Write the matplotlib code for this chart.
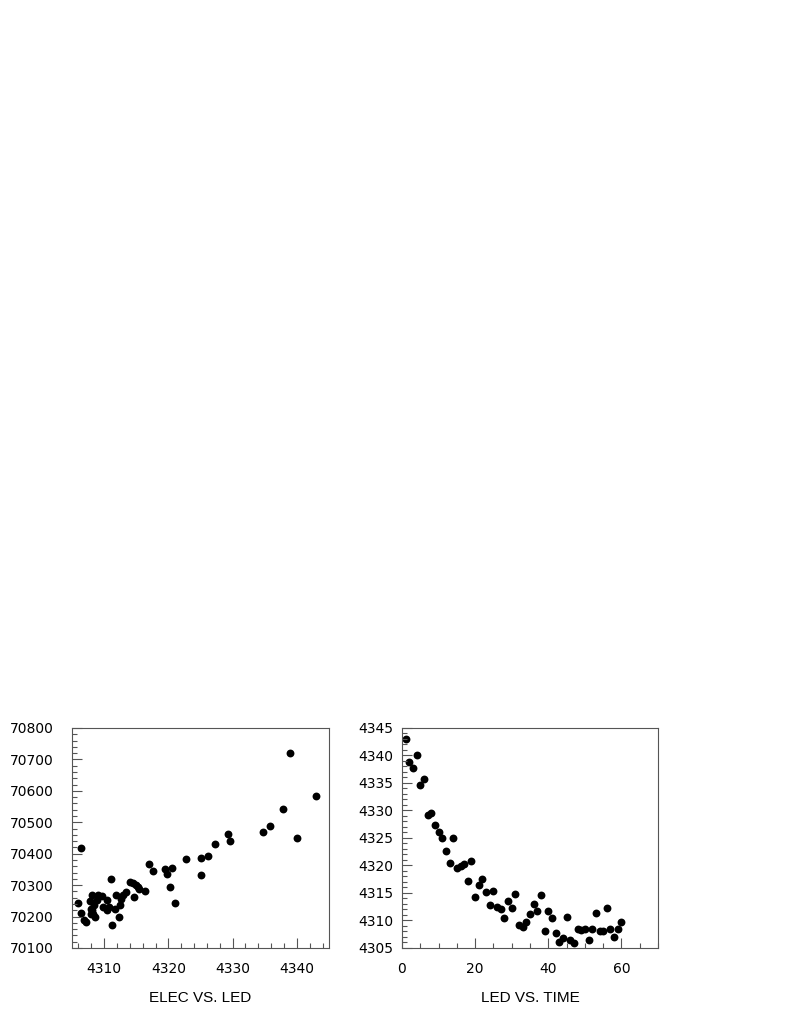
import matplotlib
matplotlib.use("Agg")
import matplotlib.pyplot as plt
from matplotlib.ticker import MultipleLocator

# ELEC vs LED
led_x = [4305.9, 4306.35, 4306.35, 4306.8, 4307.1, 4307.8, 4308.1, 4307.9, 4308.1, 4308.4,
         4308.3, 4308.5, 4307.9, 4308.85, 4309.1, 4309.6, 4309.8, 4310.4, 4310.5, 4310.7,
         4311.1, 4311.25, 4311.7, 4311.9, 4312.35, 4312.45, 4312.6, 4312.97, 4313.44, 4314.07,
         4314.43, 4314.7, 4314.9, 4315.2, 4315.5, 4316.4, 4317.0, 4317.6, 4319.5, 4319.75,
         4320.2, 4320.5, 4321.0, 4322.8, 4325.0, 4325.0, 4326.2, 4327.3, 4329.3, 4329.6,
         4334.7, 4335.8, 4337.8, 4339.0, 4340.0, 4343.0]
elec_y = [70243, 70419, 70211, 70188, 70182, 70249, 70270, 70225, 70220, 70238,
          70209, 70199, 70209, 70252, 70270, 70267, 70231, 70252, 70222, 70231,
          70320, 70172, 70225, 70268, 70199, 70236, 70255, 70268, 70278, 70310,
          70306, 70261, 70302, 70294, 70289, 70280, 70368, 70344, 70351, 70334,
          70295, 70355, 70243, 70384, 70386, 70332, 70393, 70432, 70463, 70439,
          70469, 70487, 70541, 70720, 70450, 70585]

# LED vs TIME
time_x = list(range(1, 61))
led_y = [4343.0, 4338.9, 4337.7, 4340.0, 4334.7, 4335.7, 4329.2, 4329.5, 4327.3, 4326.1,
         4325.0, 4322.7, 4320.4, 4325.0, 4319.5, 4319.9, 4320.3, 4317.1, 4320.9, 4314.2,
         4316.5, 4317.6, 4315.2, 4312.8, 4315.3, 4312.5, 4312.0, 4310.5, 4313.5, 4312.3,
         4314.8, 4309.1, 4308.8, 4309.7, 4311.1, 4313.0, 4311.8, 4314.6, 4308.0, 4311.7,
         4310.5, 4307.8, 4306.0, 4306.8, 4310.7, 4306.4, 4305.9, 4308.5, 4308.3, 4308.4,
         4306.4, 4308.4, 4311.3, 4308.0, 4308.0, 4312.3, 4308.5, 4307.0, 4308.5, 4309.7]

plt.rcParams['font.family'] = ['DejaVu Sans']

fig = plt.figure(figsize=(7.89, 10.21), dpi=100)
ax1 = fig.add_axes([0.0913, 0.0715, 0.3257, 0.2155])
ax2 = fig.add_axes([0.5095, 0.0715, 0.3245, 0.2155])


def style(ax, xmaj, xmin, ymaj, ymin, ypad):
    ax.xaxis.set_major_locator(MultipleLocator(xmaj))
    ax.xaxis.set_minor_locator(MultipleLocator(xmin))
    ax.yaxis.set_major_locator(MultipleLocator(ymaj))
    ax.yaxis.set_minor_locator(MultipleLocator(ymin))
    ax.tick_params(which='both', direction='in', top=False, right=False,
                   colors='#555555', labelcolor='black', labelsize=10, width=0.8)
    ax.tick_params(which='major', length=7)
    ax.tick_params(which='minor', length=3.5)
    ax.tick_params(axis='x', which='major', pad=10)
    ax.tick_params(axis='y', which='major', pad=ypad)
    for s in ax.spines.values():
        s.set_linewidth(0.8)
        s.set_color('#555555')
    ax.xaxis.label.set_fontfamily(['Liberation Sans'])


ax1.scatter(led_x, elec_y, s=32, color='black', linewidths=0)
ax1.set_xlim(4305, 4345)
ax1.set_ylim(70100, 70800)
style(ax1, 10, 2, 100, 20, 13.5)
ax1.set_xlabel('ELEC VS. LED', fontsize=11, labelpad=11)

ax2.scatter(time_x, led_y, s=32, color='black', linewidths=0)
ax2.set_xlim(0, 70)
ax2.set_ylim(4305, 4345)
style(ax2, 20, 5, 5, 1, 6)
ax2.set_xlabel('LED VS. TIME', fontsize=11, labelpad=11)

fig.savefig('out.png', dpi=100)
